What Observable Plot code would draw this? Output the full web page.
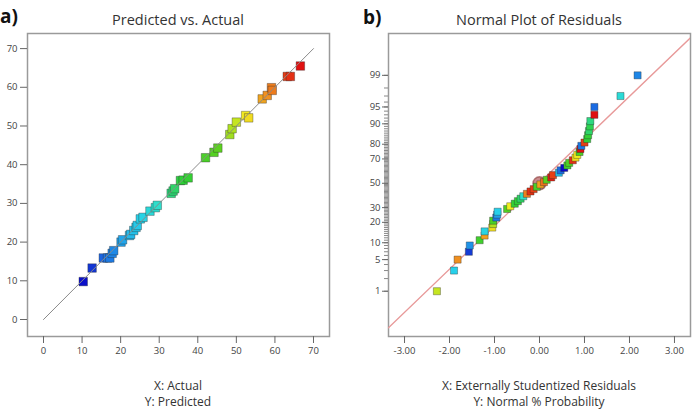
<!DOCTYPE html>
<html>
<head>
<meta charset="utf-8">
<script src="https://cdn.jsdelivr.net/npm/d3@7"></script>
<script src="https://cdn.jsdelivr.net/npm/@observablehq/plot@0.6"></script>
<style>
  body { margin: 0; background: #fff; font-family: "Open Sans", sans-serif; }
  #wrap { position: relative; width: 694px; height: 412px; overflow: hidden; }
  .panel { position: absolute; top: 0; width: 347px; height: 412px; }
  .panel svg { display: block; }
  .lbl { position: absolute; white-space: nowrap; color: #333; transform: translate(-50%, -50%); line-height: 1; }
  .title { font-size: 14.5px; }
  .axlbl { font-size: 12px; }
  .tag { position: absolute; font-weight: bold; font-size: 19px; color: #111; line-height: 1; }
</style>
</head>
<body>
<div id="wrap">
  <div class="panel" id="pa" style="left:0"></div>
  <div class="panel" id="pb" style="left:347px"></div>
</div>
<script>
// ---- Panel a: predicted vs. actual response ----
const actual = [10.3, 12.6, 15.5, 16.6, 17.2, 17.8, 18.2, 20.1, 20.5, 22.3, 22.6, 23.4, 24.0, 24.3, 25.1, 25.8, 27.6, 29.0, 29.5, 33.1,
                33.6, 34.0, 35.5, 36.2, 37.5, 42.0, 44.2, 45.2, 48.3, 48.9, 50.0, 52.4, 53.2, 56.7, 58.0, 59.1, 59.3, 63.2, 64.0, 66.6];
const predicted = [9.8, 13.3, 15.9, 15.9, 15.9, 17.1, 17.8, 20.0, 20.6, 21.7, 22.0, 23.0, 23.8, 24.3, 26.0, 26.4, 28.0, 28.9, 29.5, 32.6,
                   33.2, 33.8, 35.9, 36.0, 36.6, 41.8, 43.2, 44.3, 47.8, 49.3, 51.0, 52.7, 52.1, 57.0, 57.9, 59.9, 59.2, 62.8, 62.8, 65.5];
const responseTicks = [0, 10, 20, 30, 40, 50, 60, 70];

// ---- Panel b: normal probability plot of residuals ----
const residual = [-2.28, -1.90, -1.82, -1.57, -1.55, -1.33, -1.22, -1.22, -1.05, -1.03,
                  -1.03, -0.96, -0.94, -0.93, -0.72, -0.65, -0.55, -0.48, -0.42, -0.36,
                  -0.28, -0.20, -0.13, -0.06, 0.02, 0.10, 0.16, 0.26, 0.30, 0.43,
                  0.47, 0.55, 0.62, 0.66, 0.74, 0.80, 0.84, 0.89, 0.91, 0.93,
                  1.00, 1.06, 1.08, 1.10, 1.12, 1.13, 1.22, 1.22, 1.80, 2.18];
const normalPct = [1, 3, 5, 7, 9, 11, 13, 15, 17, 19,
                   21, 23, 25, 27, 29, 31, 33, 35, 37, 39,
                   41, 43, 45, 47, 49, 51, 53, 55, 57, 59,
                   61, 63, 65, 67, 69, 71, 73, 75, 77, 79,
                   81, 83, 85, 87, 89, 91, 93, 95, 97, 99];
// response value of each run, used for the point colour
const residualResponse = [50, 25, 58, 13, 19, 40, 57, 26, 53, 49,
                          42, 17, 20, 25, 44, 52, 37, 36, 34, 30,
                          59, 64, 63, 42, 57, 60, 45, 65, 63, 23,
                          16, 10, 40, 43, 64, 53, 52, 42, 66, 17,
                          63, 36, 37, 34, 35, 33, 67, 16, 28, 18];
const residualTicks = [-3, -2, -1, 0, 1, 2, 3];
const pctTicks = [1, 5, 10, 20, 30, 50, 70, 80, 90, 95, 99];
const pctMinor = d3.range(1, 100);
const fitIntercept = 0.011;   // probit units
const fitSlope = 0.931;
const highlighted = [{residual: 0, pct: 50}];

// shared colour ramp (blue -> cyan -> green -> yellow -> red)
const colorStops = [10, 15, 20, 25, 30, 36, 45, 52, 58, 66];
const colorRamp = ["#0a0ac8", "#1a5ee0", "#20a0ea", "#26d0ea", "#2ee0c8", "#2ed038", "#58d020", "#f0ee20", "#f09020", "#e01010"];

// inverse standard normal CDF (Acklam's rational approximation)
function probit(p) {
  const a = [-3.969683028665376e+01, 2.209460984245205e+02, -2.759285104469687e+02, 1.383577518672690e+02, -3.066479806614716e+01, 2.506628277459239e+00];
  const b = [-5.447609879822406e+01, 1.615858368580409e+02, -1.556989798598866e+02, 6.680131188771972e+01, -1.328068155288572e+01];
  const c = [-7.784894002430293e-03, -3.223964580411365e-01, -2.400758277161838e+00, -2.549732539343734e+00, 4.374664141464968e+00, 2.938163982698783e+00];
  const d = [7.784695709041462e-03, 3.224671290700398e-01, 2.445134137142996e+00, 3.754408661907416e+00];
  const pl = 0.02425, ph = 1 - pl;
  let q, r;
  if (p < pl) {
    q = Math.sqrt(-2 * Math.log(p));
    return (((((c[0]*q+c[1])*q+c[2])*q+c[3])*q+c[4])*q+c[5]) / ((((d[0]*q+d[1])*q+d[2])*q+d[3])*q+1);
  }
  if (p > ph) {
    q = Math.sqrt(-2 * Math.log(1 - p));
    return -(((((c[0]*q+c[1])*q+c[2])*q+c[3])*q+c[4])*q+c[5]) / ((((d[0]*q+d[1])*q+d[2])*q+d[3])*q+1);
  }
  q = p - 0.5; r = q * q;
  return (((((a[0]*r+a[1])*r+a[2])*r+a[3])*r+a[4])*r+a[5])*q / (((((b[0]*r+b[1])*r+b[2])*r+b[3])*r+b[4])*r+1);
}

const colorScale = {type: "linear", domain: colorStops, range: colorRamp, clamp: true};
const baseStyle = {fontFamily: "'Open Sans', sans-serif", fontSize: "9.5px", color: "#444", background: "white", overflow: "visible"};
const squareStyle = {symbol: "square", stroke: "#2a2a2a", strokeOpacity: 0.45, strokeWidth: 0.8};

const pairs = actual.map((v, i) => ({actual: v, predicted: predicted[i]}));
const resid = residual.map((v, i) => ({residual: v, pct: normalPct[i], response: residualResponse[i]}));

const chartA = Plot.plot({
  width: 347, height: 412,
  marginLeft: 27, marginRight: 18, marginTop: 33, marginBottom: 76,
  style: baseStyle,
  x: {domain: [-4.15, 74.15]},
  y: {domain: [-4.39, 73.9]},
  color: colorScale,
  marks: [
    Plot.frame({stroke: "#9a9a9a", strokeWidth: 1.5}),
    Plot.axisX(responseTicks, {tickSize: 7, tickPadding: 4, label: null, stroke: "#666"}),
    Plot.axisY(responseTicks, {tickSize: 7, tickPadding: 3, label: null, stroke: "#666"}),
    Plot.dot(pairs, {x: "actual", y: "predicted", fill: "actual", r: 4.8, ...squareStyle}),
    Plot.line([responseTicks[0], responseTicks[responseTicks.length - 1]], {x: d => d, y: d => d, stroke: "#8a8a8a", strokeWidth: 1})
  ]
});

const pctLabel = new Map(pctTicks.map(p => [probit(p / 100), String(p)]));
const resXDomain = [-3.356, 3.356];
const fitLine = resXDomain.map(x => ({x, z: fitIntercept + fitSlope * x}));

const chartB = Plot.plot({
  width: 347, height: 412,
  marginLeft: 41, marginRight: 4, marginTop: 33, marginBottom: 76,
  style: baseStyle,
  x: {domain: resXDomain},
  y: {domain: [-3.302, 3.228]},
  color: colorScale,
  marks: [
    Plot.frame({stroke: "#9a9a9a", strokeWidth: 1.5}),
    Plot.axisX(residualTicks, {tickSize: 7, tickPadding: 4, label: null, stroke: "#666", tickFormat: d => d.toFixed(2)}),
    Plot.axisY(pctMinor.map(p => probit(p / 100)), {tickSize: 4, label: null, stroke: "#888", tickFormat: () => ""}),
    Plot.axisY([...pctLabel.keys()], {tickSize: 6, tickPadding: 2, label: null, stroke: "#666", tickFormat: d => pctLabel.get(d)}),
    Plot.line(fitLine, {x: "x", y: "z", stroke: "#e89a9a", strokeWidth: 1.3, clip: true}),
    Plot.dot(highlighted, {x: "residual", y: d => probit(d.pct / 100), r: 6.5, fill: "#b45a5a", fillOpacity: 0.7, stroke: "#8a3a3a", strokeOpacity: 0.6}),
    Plot.dot(resid, {x: "residual", y: d => probit(d.pct / 100), fill: "response", r: 4, ...squareStyle})
  ]
});

function addLabel(panel, text, x, y, cls) {
  const el = document.createElement("div");
  el.className = "lbl " + cls;
  el.textContent = text;
  el.style.left = x + "px";
  el.style.top = y + "px";
  panel.appendChild(el);
}
function addTag(panel, text, x, y) {
  const el = document.createElement("div");
  el.className = "tag";
  el.textContent = text;
  el.style.left = x + "px";
  el.style.top = y + "px";
  panel.appendChild(el);
}

const pa = document.getElementById("pa");
pa.appendChild(chartA);
addLabel(pa, "Predicted vs. Actual", 178, 20, "title");
addLabel(pa, "X: Actual", 178, 386, "axlbl");
addLabel(pa, "Y: Predicted", 178, 402, "axlbl");
addTag(pa, "a)", 0, 7);

const pb = document.getElementById("pb");
pb.appendChild(chartB);
addLabel(pb, "Normal Plot of Residuals", 192, 20, "title");
addLabel(pb, "X: Externally Studentized Residuals", 192, 386, "axlbl");
addLabel(pb, "Y: Normal % Probability", 192, 402, "axlbl");
addTag(pb, "b)", 16, 8);
</script>
</body>
</html>
